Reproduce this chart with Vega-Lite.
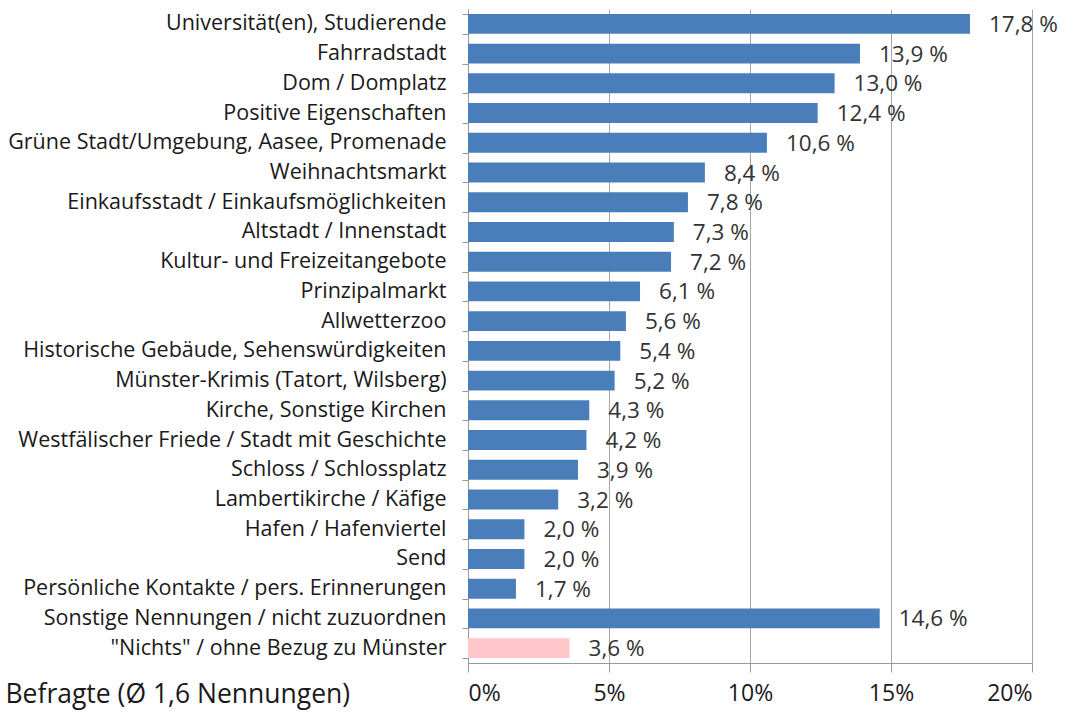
{
  "$schema": "https://vega.github.io/schema/vega-lite/v6.json",
  "autosize": {"type": "none"},
  "width": 564,
  "height": 654,
  "padding": {"left": 468, "top": 9, "right": 35, "bottom": 50},
  "background": "white",
  "data": {"values": [
    {"cat": "Universität(en), Studierende", "v": 17.8, "label": "17,8 %", "grp": "a"},
    {"cat": "Fahrradstadt", "v": 13.9, "label": "13,9 %", "grp": "a"},
    {"cat": "Dom / Domplatz", "v": 13.0, "label": "13,0 %", "grp": "a"},
    {"cat": "Positive Eigenschaften", "v": 12.4, "label": "12,4 %", "grp": "a"},
    {"cat": "Grüne Stadt/Umgebung, Aasee, Promenade", "v": 10.6, "label": "10,6 %", "grp": "a"},
    {"cat": "Weihnachtsmarkt", "v": 8.4, "label": "8,4 %", "grp": "a"},
    {"cat": "Einkaufsstadt / Einkaufsmöglichkeiten", "v": 7.8, "label": "7,8 %", "grp": "a"},
    {"cat": "Altstadt / Innenstadt", "v": 7.3, "label": "7,3 %", "grp": "a"},
    {"cat": "Kultur- und Freizeitangebote", "v": 7.2, "label": "7,2 %", "grp": "a"},
    {"cat": "Prinzipalmarkt", "v": 6.1, "label": "6,1 %", "grp": "a"},
    {"cat": "Allwetterzoo", "v": 5.6, "label": "5,6 %", "grp": "a"},
    {"cat": "Historische Gebäude, Sehenswürdigkeiten", "v": 5.4, "label": "5,4 %", "grp": "a"},
    {"cat": "Münster-Krimis (Tatort, Wilsberg)", "v": 5.2, "label": "5,2 %", "grp": "a"},
    {"cat": "Kirche, Sonstige Kirchen", "v": 4.3, "label": "4,3 %", "grp": "a"},
    {"cat": "Westfälischer Friede / Stadt mit Geschichte", "v": 4.2, "label": "4,2 %", "grp": "a"},
    {"cat": "Schloss / Schlossplatz", "v": 3.9, "label": "3,9 %", "grp": "a"},
    {"cat": "Lambertikirche / Käfige", "v": 3.2, "label": "3,2 %", "grp": "a"},
    {"cat": "Hafen / Hafenviertel", "v": 2.0, "label": "2,0 %", "grp": "a"},
    {"cat": "Send", "v": 2.0, "label": "2,0 %", "grp": "a"},
    {"cat": "Persönliche Kontakte / pers. Erinnerungen", "v": 1.7, "label": "1,7 %", "grp": "a"},
    {"cat": "Sonstige Nennungen / nicht zuzuordnen", "v": 14.6, "label": "14,6 %", "grp": "a"},
    {"cat": "\"Nichts\" / ohne Bezug zu Münster", "v": 3.6, "label": "3,6 %", "grp": "b"}
  ]},
  "encoding": {
    "y": {
      "field": "cat", "type": "nominal", "sort": null,
      "scale": {"paddingInner": 0.33, "paddingOuter": 0.165},
      "axis": {
        "title": null, "tickBand": "extent", "tickSize": 6, "tickColor": "#999999",
        "domainColor": "#999999", "labelFont": "Open Sans", "labelFontSize": 21.5,
        "labelColor": "#1a1a1a", "labelPadding": 16, "labelLimit": 470
      }
    },
    "x": {
      "field": "v", "type": "quantitative",
      "scale": {"domain": [0, 20], "nice": false},
      "axis": {
        "values": [0, 5, 10, 15, 20], "labelExpr": "datum.value + '%'",
        "grid": true, "gridColor": "#a6a6a6", "domainColor": "#999999",
        "tickColor": "#999999", "tickSize": 9, "labelFont": "Open Sans",
        "labelFontSize": 23, "labelColor": "#1a1a1a", "labelPadding": 10,
        "title": "Befragte (Ø 1,6 Nennungen)", "titleFont": "Open Sans",
        "titleFontSize": 26.5, "titleFontWeight": "normal", "titleColor": "#1a1a1a",
        "titleAnchor": "start", "titleAlign": "left", "titleBaseline": "alphabetic",
        "titleX": -463, "titleY": 39
      }
    }
  },
  "layer": [
    {
      "mark": {"type": "bar"},
      "encoding": {
        "color": {
          "field": "grp", "type": "nominal", "legend": null,
          "scale": {"domain": ["a", "b"], "range": ["#4a7ebb", "#ffc7c9"]}
        }
      }
    },
    {
      "mark": {"type": "text", "align": "left", "baseline": "middle", "dx": 19, "dy": 1, "font": "Open Sans", "fontSize": 22.5, "color": "#333333"},
      "encoding": {"text": {"field": "label"}}
    }
  ],
  "config": {"view": {"stroke": null}}
}
